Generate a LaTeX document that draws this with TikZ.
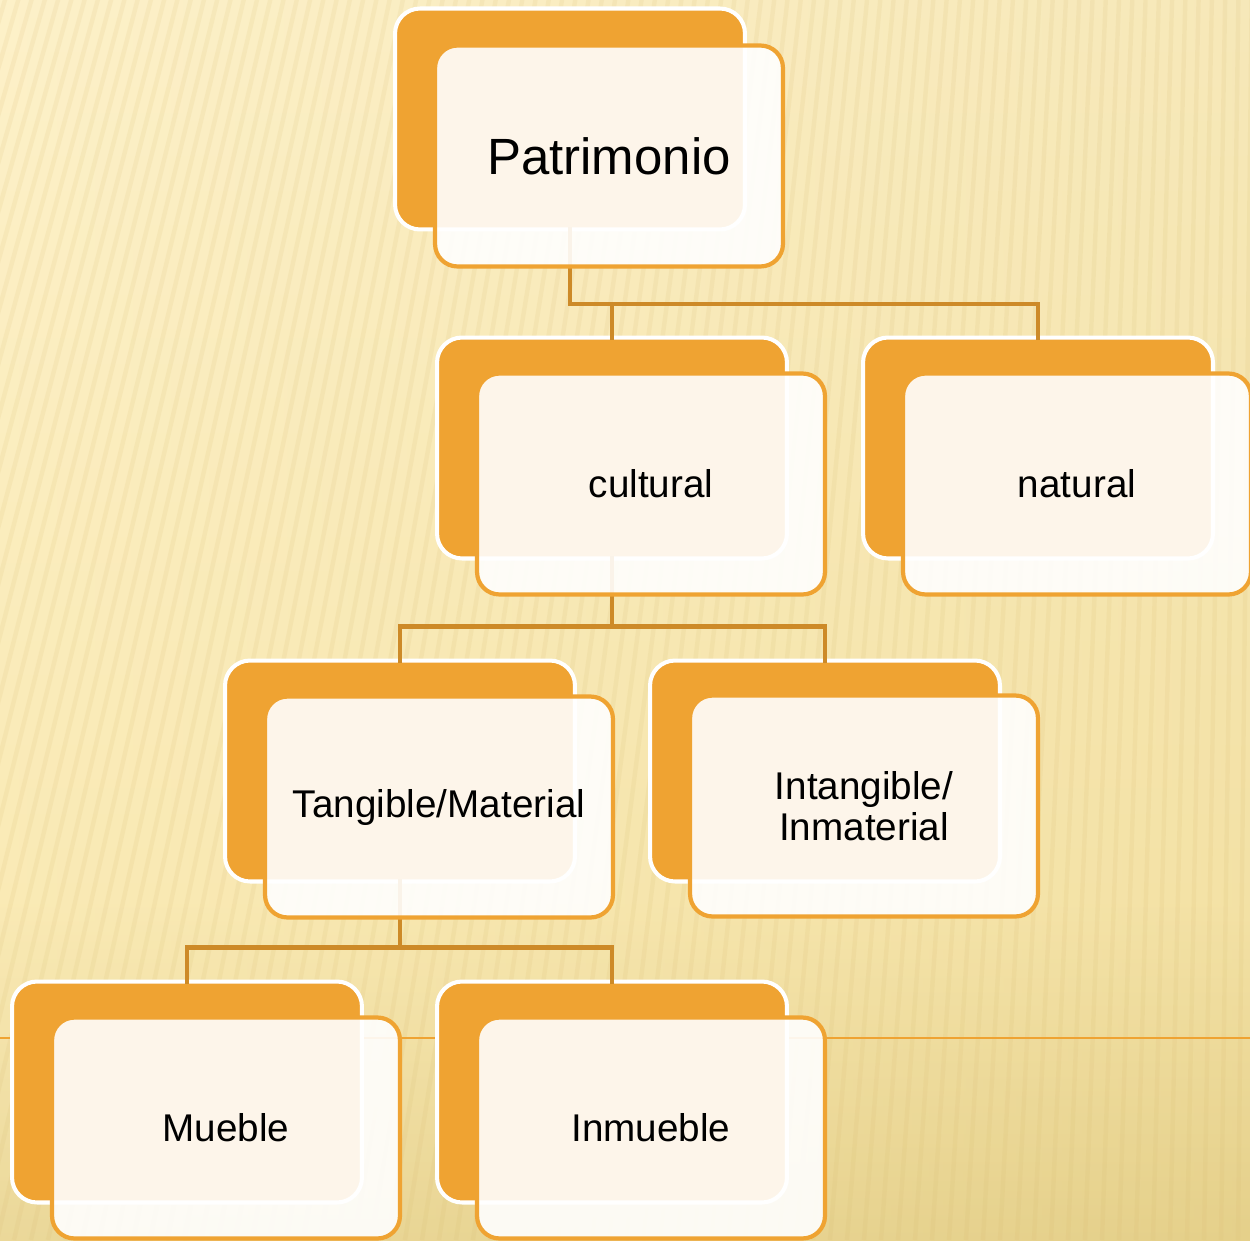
\documentclass[tikz,border=0pt]{standalone}
\usepackage{fontspec}
\setmainfont{Liberation Sans}
\usetikzlibrary{calc}
\definecolor{bgtop}{RGB}{253,241,201}
\definecolor{bgmid}{RGB}{249,232,175}
\definecolor{bgbot}{RGB}{229,208,138}
\definecolor{boxorange}{RGB}{239,163,50}
\definecolor{connbrown}{RGB}{205,138,40}
\definecolor{stripe}{RGB}{215,185,110}
\tikzset{
  backbox/.style={rectangle, rounded corners=0.5cm, minimum width=7cm, minimum height=4.42cm,
    inner sep=0pt, outer sep=0pt, fill=boxorange, draw=white, line width=2.3pt},
  frontbox/.style={rectangle, rounded corners=0.45cm, minimum width=6.96cm, minimum height=4.42cm,
    inner sep=0pt, outer sep=0pt, fill=white, fill opacity=0.9, text opacity=1,
    draw=boxorange, draw opacity=1, line width=2.4pt, align=center,
    font=\fontsize{22}{23}\selectfont},
  conn/.style={draw=connbrown, line width=2.3pt, line cap=rect},
}
\begin{document}
\begin{tikzpicture}[x=0.02cm, y=-0.02cm]
\useasboundingbox (0,0) rectangle (1250,1240);
% background
\shade[top color=bgtop, bottom color=bgmid] (0,0) rectangle (1250,900);
\shade[top color=bgmid, bottom color=bgbot] (0,899) rectangle (1250,1240);
\shade[left color=bgtop, right color=bgbot, opacity=0.25] (0,0) rectangle (1250,1240);
\begin{scope}
\clip (0,0) rectangle (1250,1240);
\foreach \i in {-700,-683,...,1400}{
  \draw[stripe, opacity=0.13, line width=2.5pt] (1300,-4400) -- (\i,1240);
}
\end{scope}
% horizontal line
\draw[boxorange, line width=1.2pt] (0,1038) -- (1250,1038);
% back boxes
\node[backbox] (pb) at (570,119) {};
\node[backbox] (cb) at (612,448) {};
\node[backbox] (nb) at (1038,448) {};
\node[backbox] (tb) at (400,771) {};
\node[backbox] (ib) at (825,771) {};
\node[backbox] (mb) at (187,1092) {};
\node[backbox] (ub) at (612,1092) {};
% connectors
\draw[conn] (pb.south) -- ++(0,75) coordinate (pm) -| (nb.north);
\draw[conn] (cb.north) -- (cb.north |- pm);
\draw[conn] (cb.south) -- ++(0,68) coordinate (cm);
\draw[conn] (tb.north) |- (cm) -| (ib.north);
\draw[conn] (tb.south) -- ++(0,66) coordinate (tm);
\draw[conn] (mb.north) |- (tm) -| (ub.north);
% front boxes
\node[frontbox, font=\fontsize{29}{30}\selectfont] (p) at (609,156) {Patrimonio};
\node[frontbox] (c) at (651,484) {cultural};
\node[frontbox] (n) at (1077,484) {natural};
\node[frontbox] (t) at (439,807) {Tangible/Material};
\node[frontbox] (i) at (864,806) {Intangible/\\Inmaterial};
\node[frontbox] (m) at (226,1128) {Mueble};
\node[frontbox] (u) at (651,1128) {Inmueble};
\end{tikzpicture}
\end{document}
